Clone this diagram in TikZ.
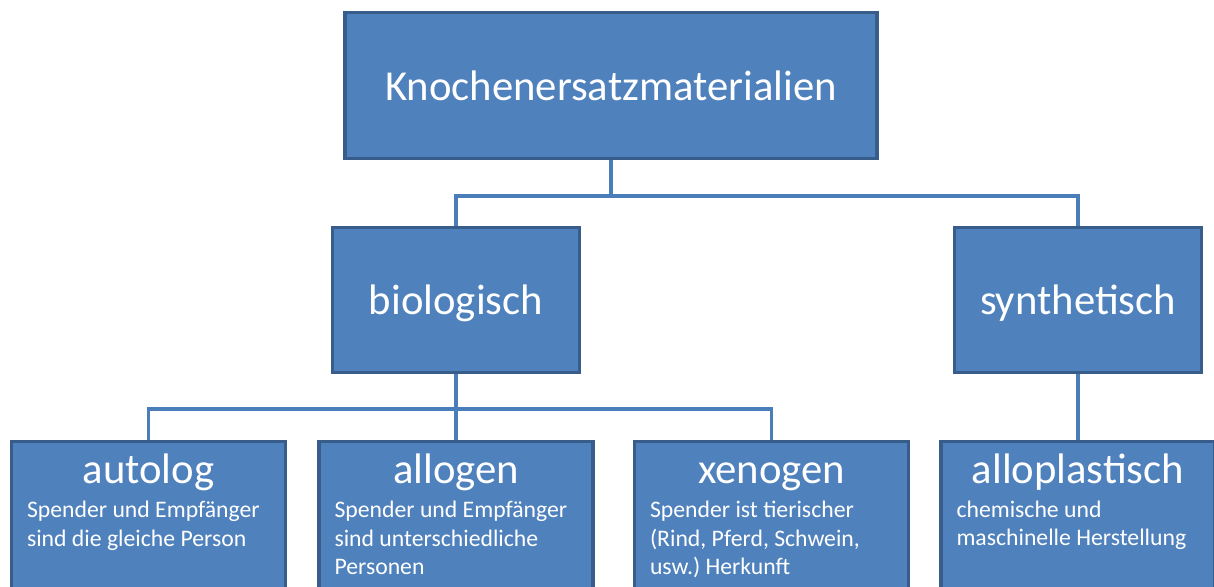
\documentclass[tikz,border=0pt]{standalone}
\usepackage{fontspec}
\setmainfont{Carlito}
\usetikzlibrary{positioning}

\definecolor{boxblue}{HTML}{4F81BD}
\definecolor{boxedge}{HTML}{385D8A}
\definecolor{lineblue}{HTML}{4A7EBB}

\newcommand{\bigtxt}{\fontsize{24.3}{29}\selectfont}
\newcommand{\smalltxt}{\fontsize{13.5}{16}\selectfont\spaceskip=0.226em\relax\xspaceskip=0.226em\relax}
\newcommand{\leaftext}[2]{{\centering #1\par}\vspace{3.4pt}{\smalltxt\begin{tabular}{@{}l@{}}#2\end{tabular}\par}}

\begin{document}
\begin{tikzpicture}[x=0.02cm, y=-0.02cm,
		box/.style={rectangle, draw=boxedge, fill=boxblue, line width=1.9pt, text=white, font=\bigtxt, text depth=0pt},
		leaf/.style={box, anchor=north, text width=4.86cm, inner xsep=0.31cm, inner ysep=0.2cm, text height=0.63cm, text depth=4cm},
		conn/.style={draw=lineblue, line width=2.2pt}]
			\clip (0,0) rectangle (1214,586);

			\node (root) [box, minimum width=10.64cm, minimum height=2.92cm] at (611,85.5) {Knochenersatzmaterialien};

			\node (bio) [box, minimum width=4.94cm, minimum height=2.9cm] at (456,300) {biologisch};
			\node (syn) [box, minimum width=4.94cm, minimum height=2.9cm] at (1078,300) {synthetisch};

			\node (auto) [leaf] at (148.5,440) {\leaftext{autolog}{Spender und Empfänger\\sind die gleiche Person}};
			\node (allo) [leaf] at (456,440) {\leaftext{allogen}{Spender und Empfänger\\sind unterschiedliche\\Personen}};
			\node (xeno) [leaf] at (771.5,440) {\leaftext{xenogen}{Spender ist tierischer\\(Rind, Pferd, Schwein,\\usw.) Herkunft}};
			\node (plast) [leaf] at (1078,440) {\leaftext{alloplastisch}{chemische und\\maschinelle Herstellung}};

			\draw[conn] (root.south) -- ++(0,35.5) -| (bio.north);
			\draw[conn] (root.south) -- ++(0,35.5) -| (syn.north);
			\draw[conn] (bio.south) -- ++(0,34.5) -| (auto.north);
			\draw[conn] (bio.south) -- (allo.north);
			\draw[conn] (bio.south) -- ++(0,34.5) -| (xeno.north);
			\draw[conn] (syn.south) -- (plast.north);
		\end{tikzpicture}
\end{document}
